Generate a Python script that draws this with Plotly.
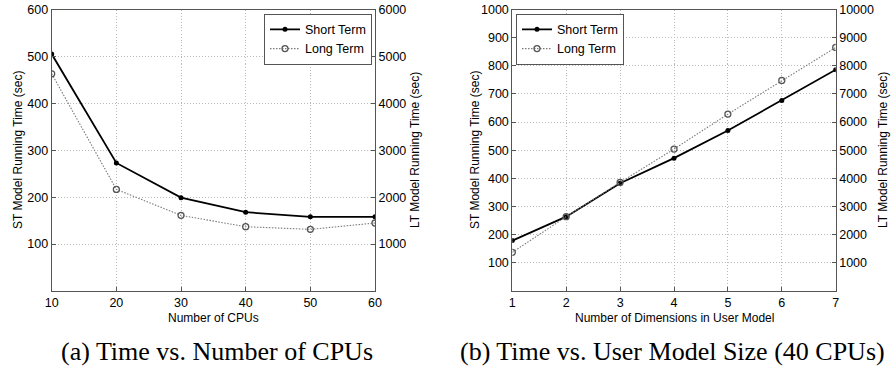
import plotly.graph_objects as go

W, H = 896, 367

# Panel (a)
cpus = [10, 20, 30, 40, 50, 60]
st_cpu = [505, 273, 199, 168, 158, 158]
lt_cpu = [4630, 2166, 1612, 1370, 1314, 1449]

# Panel (b)
dims = [1, 2, 3, 4, 5, 6, 7]
st_dim = [179, 264, 383, 472, 570, 677, 786]
lt_dim = [1373, 2639, 3858, 5041, 6284, 7479, 8651]

left_ticks_a = [100, 200, 300, 400, 500, 600]
right_ticks_a = [1000, 2000, 3000, 4000, 5000, 6000]
left_ticks_b = [100, 200, 300, 400, 500, 600, 700, 800, 900, 1000]
right_ticks_b = [1000, 2000, 3000, 4000, 5000, 6000, 7000, 8000, 9000, 10000]

FONT = "Liberation Sans, Arial, sans-serif"
SERIF = "Liberation Serif, DejaVu Serif, serif"
AX = "#555555"
GRID = "#b8b8b8"

def px(x):
    return x / W

def py(y):
    return 1 - y / H

xa = [px(51.7), px(375.0)]
xb = [px(512.3), px(835.7)]
yd = [py(291.0), py(9.5)]

st_line = dict(color="black", width=1.8)
st_marker = dict(symbol="circle", size=5, color="black")
lt_line = dict(color="#7a7a7a", width=1.1, dash="1.5px,1.5px")
lt_marker = dict(symbol="circle-open", size=6, color="#555555", line=dict(width=1.3))

fig = go.Figure()
fig.add_trace(go.Scatter(x=cpus, y=st_cpu, mode="lines+markers", name="Short Term",
                         line=st_line, marker=st_marker, xaxis="x", yaxis="y", legend="legend"))
fig.add_trace(go.Scatter(x=cpus, y=lt_cpu, mode="lines+markers", name="Long Term",
                         line=lt_line, marker=lt_marker, xaxis="x", yaxis="y2", legend="legend"))
fig.add_trace(go.Scatter(x=dims, y=st_dim, mode="lines+markers", name="Short Term",
                         line=st_line, marker=st_marker, xaxis="x2", yaxis="y3", legend="legend2"))
fig.add_trace(go.Scatter(x=dims, y=lt_dim, mode="lines+markers", name="Long Term",
                         line=lt_line, marker=lt_marker, xaxis="x2", yaxis="y4", legend="legend2"))

tickfont = dict(family=FONT, size=12.5, color="black")
common_x = dict(showline=True, linecolor=AX, linewidth=1, mirror=True, ticks="inside",
                ticklen=4, tickcolor=AX, showgrid=True, gridcolor=GRID, griddash="1px,2px",
                gridwidth=1, zeroline=False, tickfont=tickfont, automargin=False)
common_y = dict(showline=True, linecolor=AX, linewidth=1, ticks="inside", ticklen=4,
                tickcolor=AX, zeroline=False, tickfont=tickfont, automargin=False,
                tickformat="d")

fig.update_layout(
    width=W, height=H,
    margin=dict(l=0, r=0, t=0, b=0),
    paper_bgcolor="white", plot_bgcolor="white",
    font=dict(family=FONT, size=12, color="black"),
    xaxis=dict(domain=xa, anchor="y", range=[10, 60], tickvals=cpus, **common_x),
    yaxis=dict(domain=yd, anchor="x", range=[0, 600], tickvals=left_ticks_a,
               showgrid=True, gridcolor=GRID, griddash="1px,2px", **common_y),
    yaxis2=dict(overlaying="y", side="right", anchor="x", range=[0, 6000],
                tickvals=right_ticks_a, showgrid=False, **common_y),
    xaxis2=dict(domain=xb, anchor="y3", range=[1, 7], tickvals=dims, **common_x),
    yaxis3=dict(domain=yd, anchor="x2", range=[0, 1000], tickvals=left_ticks_b,
                showgrid=True, gridcolor=GRID, griddash="1px,2px", **common_y),
    yaxis4=dict(overlaying="y3", side="right", anchor="x2", range=[0, 10000],
                tickvals=right_ticks_b, showgrid=False, **common_y),
    legend=dict(x=px(372), y=py(13.7), xanchor="right", yanchor="top",
                bgcolor="white", bordercolor="#555555", borderwidth=1,
                font=dict(family=FONT, size=12.5), tracegroupgap=0, itemwidth=30),
    legend2=dict(x=px(516), y=py(13.7), xanchor="left", yanchor="top",
                 bgcolor="white", bordercolor="#555555", borderwidth=1,
                 font=dict(family=FONT, size=12.5), tracegroupgap=0, itemwidth=30),
    showlegend=True,
)

ann = []
def label(text, x, y, angle=0, size=12, family=FONT):
    ann.append(dict(text=text, x=px(x), y=py(y), xref="paper", yref="paper",
                    showarrow=False, textangle=angle, xanchor="center", yanchor="middle",
                    font=dict(family=family, size=size, color="black")))

label("Number of CPUs", 213, 318)
label("ST Model Running Time (sec)", 18, 150, angle=-90)
label("LT Model Running Time (sec)", 415, 150, angle=-90)
label("Number of Dimensions in User Model", 674, 318)
label("ST Model Running Time (sec)", 475, 150, angle=-90)
label("LT Model Running Time (sec)", 883, 150, angle=-90)
label("(a) Time vs. Number of CPUs", 217, 351, size=26, family=SERIF)
label("(b) Time vs. User Model Size (40 CPUs)", 672, 351, size=26, family=SERIF)
fig.update_layout(annotations=ann)

fig.write_html("out.html", config={"displayModeBar": False},
               post_script="document.body.style.margin='0';document.body.style.overflow='hidden';")
